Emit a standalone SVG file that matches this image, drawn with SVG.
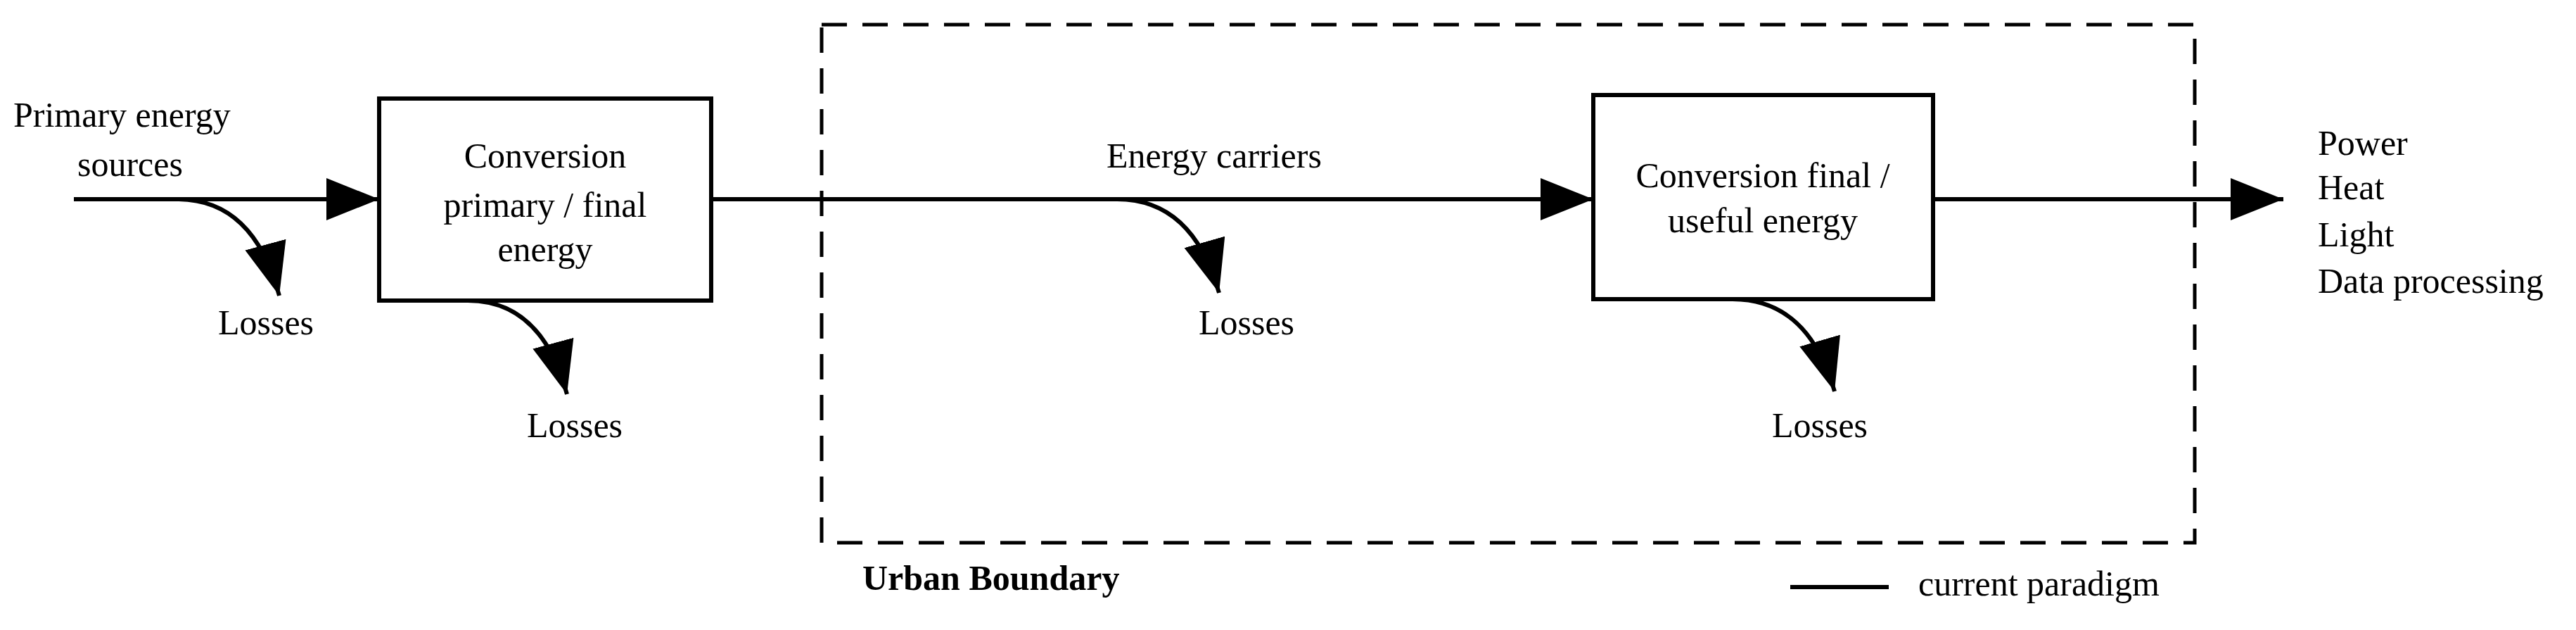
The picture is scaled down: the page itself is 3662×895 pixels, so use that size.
<svg xmlns="http://www.w3.org/2000/svg" width="3662" height="895" viewBox="0 0 3662 895">
<style>
text{font-family:"Liberation Serif","Times New Roman",serif;font-size:50px;fill:#000}
.c{text-anchor:middle}
.box{fill:#fff;stroke:#000;stroke-width:6}
.ln{fill:none;stroke:#000;stroke-width:6}
</style>
<defs>
<marker id="ah" viewBox="0 0 10 10" refX="10" refY="5" markerWidth="75" markerHeight="60" markerUnits="userSpaceOnUse" orient="auto" preserveAspectRatio="none">
<path d="M0,0 L10,5 L0,10 z" fill="#000"/>
</marker>
</defs>
<rect width="3662" height="895" fill="#fff"/>
<rect x="1168" y="35" width="1952" height="736" fill="none" stroke="#000" stroke-width="5" stroke-dasharray="36 22"/>
<g id="connectors">
<line class="ln" x1="105" y1="283" x2="539" y2="283" marker-end="url(#ah)"/>
<path class="ln" d="M252,283 Q360,283 397,420" marker-end="url(#ah)"/>
<line class="ln" x1="1011" y1="283" x2="2265" y2="283" marker-end="url(#ah)"/>
<path class="ln" d="M665,427 Q770,427 806,560" marker-end="url(#ah)"/>
<path class="ln" d="M1588,283 Q1695,283 1733,416" marker-end="url(#ah)"/>
<path class="ln" d="M2463,425 Q2570,425 2608,556" marker-end="url(#ah)"/>
<line class="ln" x1="2748" y1="283" x2="3246" y2="283" marker-end="url(#ah)"/>
<line class="ln" x1="2545" y1="834" x2="2685" y2="834"/>
</g>
<g id="box1"><rect class="box" x="539" y="140" width="472" height="287"/>
<text class="c" x="775" y="238">Conversion</text><text class="c" x="775" y="308">primary / final</text><text class="c" x="775" y="371">energy</text></g>
<g id="box2"><rect class="box" x="2265" y="135" width="483" height="290"/>
<text class="c" x="2506" y="266">Conversion final /</text><text class="c" x="2506" y="330">useful energy</text></g>
<g id="labels">
<text x="19" y="180">Primary energy</text>
<text x="110" y="250">sources</text>
<text class="c" x="378" y="475">Losses</text>
<text class="c" x="817" y="621">Losses</text>
<text class="c" x="1726" y="238">Energy carriers</text>
<text class="c" x="1772" y="475">Losses</text>
<text class="c" x="2587" y="621">Losses</text>
<text x="3295" y="220">Power</text>
<text x="3295" y="283">Heat</text>
<text x="3295" y="350">Light</text>
<text x="3295" y="416">Data processing</text>
<text x="1226" y="838" font-weight="bold" font-size="46">Urban Boundary</text>
<text x="2727" y="846">current paradigm</text>
</g>
</svg>
